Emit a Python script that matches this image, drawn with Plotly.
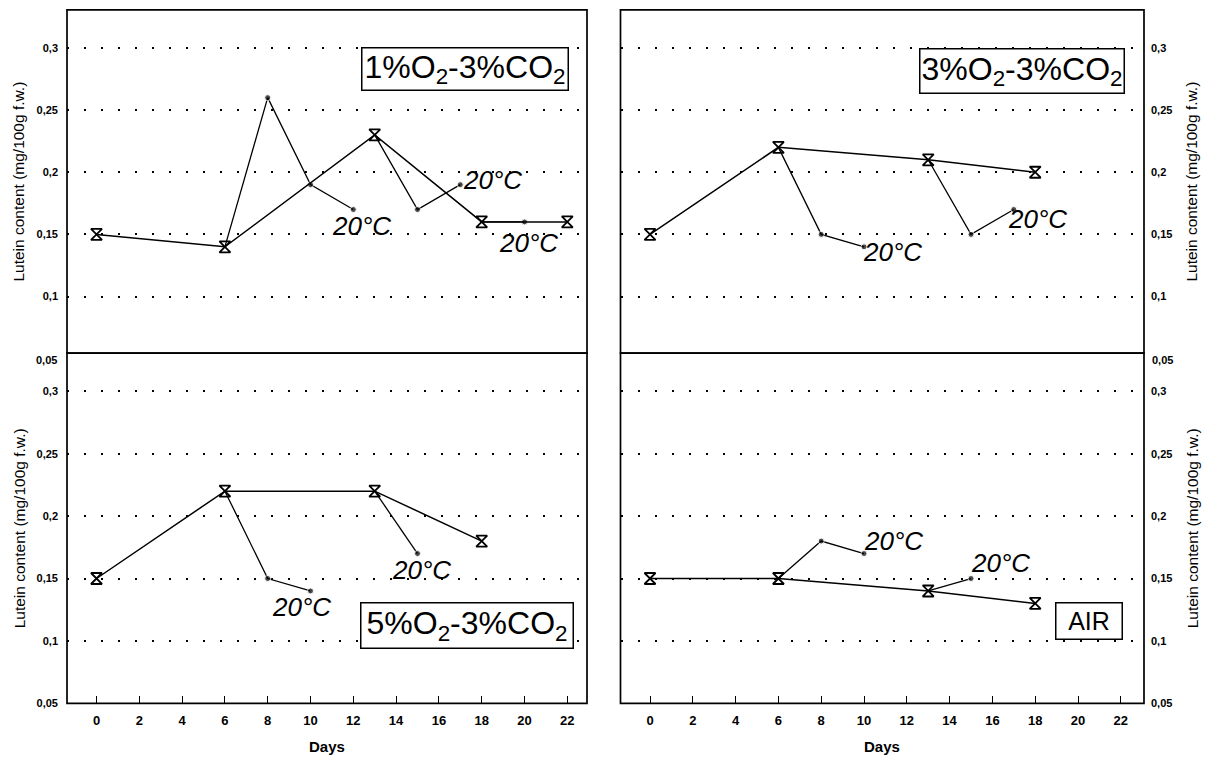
import plotly.graph_objects as go

W, H = 1207, 761

# ---------------- data ----------------
panels = ["1%O2-3%CO2", "3%O2-3%CO2", "5%O2-3%CO2", "AIR"]

# main storage series per panel
tl_days = [0, 6, 13, 18, 22]
tl_vals = [0.15, 0.14, 0.23, 0.16, 0.16]
tr_days = [0, 6, 13, 18]
tr_vals = [0.15, 0.22, 0.21, 0.20]
bl_days = [0, 6, 13, 18]
bl_vals = [0.15, 0.22, 0.22, 0.18]
br_days = [0, 6, 13, 18]
br_vals = [0.15, 0.15, 0.14, 0.13]

# shelf-life branches at 20 °C
tl_b1_days = [6, 8, 10, 12];  tl_b1_vals = [0.14, 0.26, 0.19, 0.17]
tl_b2_days = [13, 15, 17];    tl_b2_vals = [0.23, 0.17, 0.19]
tl_b3_days = [18, 20];        tl_b3_vals = [0.16, 0.16]
tr_b1_days = [6, 8, 10];      tr_b1_vals = [0.22, 0.15, 0.14]
tr_b2_days = [13, 15, 17];    tr_b2_vals = [0.21, 0.15, 0.17]
bl_b1_days = [6, 8, 10];      bl_b1_vals = [0.22, 0.15, 0.14]
bl_b2_days = [13, 15];        bl_b2_vals = [0.22, 0.17]
br_b1_days = [6, 8, 10];      br_b1_vals = [0.15, 0.18, 0.17]
br_b2_days = [13, 15];        br_b2_vals = [0.14, 0.15]

x_ticks = [0, 2, 4, 6, 8, 10, 12, 14, 16, 18, 20, 22]
y_ticks = [0.05, 0.1, 0.15, 0.2, 0.25, 0.3]
y_tick_text = ["0,05", "0,1", "0,15", "0,2", "0,25", "0,3"]
y_title = "Lutein content (mg/100g f.w.)"
x_title = "Days"
label_20 = "20°C"

# label positions (day, value) for "20°C"
tl_lbl = [(12.4, 0.157), (18.5, 0.1935), (20.2, 0.143)]
tr_lbl = [(11.35, 0.1357), (18.1, 0.1627)]
bl_lbl = [(9.6, 0.1274), (15.2, 0.157)]
br_lbl = [(11.4, 0.180), (16.4, 0.1626)]

# ---------------- layout helpers ----------------
def px_x(p):
    return p / W

def px_y(p):
    return 1 - p / H

L0, L1 = 67, 587
R0, R1 = 620.5, 1144
T0, MID, B1 = 10, 356, 709

fig = go.Figure()

font = "Liberation Sans, Arial, sans-serif"

def add_panel(xa, ya, days, vals, branches):
    for bd, bv in branches:
        fig.add_trace(go.Scatter(
            x=bd, y=bv, xaxis=xa, yaxis=ya, mode="lines+markers",
            line=dict(color="black", width=1.3),
            marker=dict(symbol="circle", color="black",
                        size=[0] + [6] * (len(bd) - 1)),
            showlegend=False, hoverinfo="skip"))
    fig.add_trace(go.Scatter(
        x=days, y=vals, xaxis=xa, yaxis=ya, mode="lines+markers",
        line=dict(color="black", width=1.5),
        marker=dict(symbol="hourglass-open", size=11, color="black",
                    line=dict(width=1.8, color="black")),
        showlegend=False, hoverinfo="skip"))

add_panel("x", "y", tl_days, tl_vals,
          [(tl_b1_days, tl_b1_vals), (tl_b2_days, tl_b2_vals), (tl_b3_days, tl_b3_vals)])
add_panel("x2", "y2", tr_days, tr_vals,
          [(tr_b1_days, tr_b1_vals), (tr_b2_days, tr_b2_vals)])
add_panel("x3", "y3", bl_days, bl_vals,
          [(bl_b1_days, bl_b1_vals), (bl_b2_days, bl_b2_vals)])
add_panel("x4", "y4", br_days, br_vals,
          [(br_b1_days, br_b1_vals), (br_b2_days, br_b2_vals)])

def xrange(left, right, zero):
    per = 21.4
    return [(left - zero) / per, (right - zero) / per]

xr_left = xrange(L0, L1, 96.5)
xr_right = xrange(R0, R1, 650)

per_unit = 62.65 / 0.05
top_range = [0.3 - (MID - 48.3) / per_unit, 0.3 + (48.3 - T0) / per_unit]
bot_range = [0.0499, 0.3 + (394.3 - MID) / per_unit]

common_x = dict(showline=False, showgrid=False, zeroline=False, tickvals=x_ticks,
                tickfont=dict(family=font, size=13, color="black", weight="bold"))

def ycommon(standoff):
    return dict(showline=False, showgrid=True, gridcolor="black", gridwidth=2,
                griddash="2px,15px", zeroline=False, tickvals=y_ticks,
                ticktext=y_tick_text, ticks="",
                tickfont=dict(family=font, size=11, color="black", weight="bold"),
                ticklabelstandoff=standoff)

fig.update_layout(
    width=W, height=H, margin=dict(l=0, r=0, t=0, b=0),
    paper_bgcolor="white", plot_bgcolor="white",
    xaxis=dict(domain=[px_x(L0), px_x(L1)], range=xr_left, anchor="y",
               showticklabels=False, ticks="", **common_x),
    xaxis2=dict(domain=[px_x(R0), px_x(R1)], range=xr_right, anchor="y2",
                showticklabels=False, ticks="", **common_x),
    xaxis3=dict(domain=[px_x(L0), px_x(L1)], range=xr_left, anchor="y3",
                ticks="inside", ticklen=7, tickwidth=1.3, tickcolor="black",
                ticklabelstandoff=8, **common_x),
    xaxis4=dict(domain=[px_x(R0), px_x(R1)], range=xr_right, anchor="y4",
                ticks="inside", ticklen=7, tickwidth=1.3, tickcolor="black",
                ticklabelstandoff=8, **common_x),
    yaxis=dict(domain=[px_y(MID), px_y(T0)], range=top_range, anchor="x", side="left", **ycommon(8)),
    yaxis2=dict(domain=[px_y(MID), px_y(T0)], range=top_range, anchor="x2", side="right", **ycommon(6)),
    yaxis3=dict(domain=[px_y(B1), px_y(MID)], range=bot_range, anchor="x3", side="left", **ycommon(8)),
    yaxis4=dict(domain=[px_y(B1), px_y(MID)], range=bot_range, anchor="x4", side="right", **ycommon(6)),
)

# panel frames
shapes = []
for x0, x1, y0, y1 in [(L0, L1, T0, MID), (R0, R1, T0, MID), (L0, L1, MID, B1), (R0, R1, MID, B1)]:
    shapes.append(dict(type="rect", xref="paper", yref="paper",
                       x0=px_x(x0), x1=px_x(x1), y0=px_y(y1), y1=px_y(y0),
                       line=dict(color="black", width=1.7), layer="above"))
fig.update_layout(shapes=shapes)

ann = []
for xa, ya, lbls in [("x", "y", tl_lbl), ("x2", "y2", tr_lbl), ("x3", "y3", bl_lbl), ("x4", "y4", br_lbl)]:
    for (dx, dy) in lbls:
        ann.append(dict(x=dx, y=dy, xref=xa, yref=ya, text="<i>" + label_20 + "</i>",
                        showarrow=False, xanchor="center", yanchor="middle",
                        font=dict(family=font, size=26, color="black")))

boxes = [
    ("x", "y", 17.22, 0.2832, 208, 44, "1%O<sub>2</sub>-3%CO<sub>2</sub>", 32),
    ("x2", "y2", 17.4, 0.2815, 206, 46, "3%O<sub>2</sub>-3%CO<sub>2</sub>", 32),
    ("x3", "y3", 17.3, 0.112, 214, 47, "5%O<sub>2</sub>-3%CO<sub>2</sub>", 32),
    ("x4", "y4", 20.5, 0.1162, 68, 38, "AIR", 25),
]
for xa, ya, cx, cy, bw, bh, txt, fs in boxes:
    ann.append(dict(x=cx, y=cy, xref=xa, yref=ya, text=txt, showarrow=False,
                    xanchor="center", yanchor="middle", width=bw - 3, height=bh - 3,
                    borderpad=0, bordercolor="black", borderwidth=1.5, bgcolor="white",
                    font=dict(family=font, size=fs, color="black")))

# extra 0,05 labels of the top panels (just below the divider)
ann.append(dict(x=px_x(L0 - 8), y=px_y(363), xref="paper", yref="paper", text=y_tick_text[0],
                showarrow=False, xanchor="right", yanchor="middle",
                font=dict(family=font, size=11, color="black", weight="bold")))
ann.append(dict(x=px_x(R1 + 6), y=px_y(363), xref="paper", yref="paper", text=y_tick_text[0],
                showarrow=False, xanchor="left", yanchor="middle",
                font=dict(family=font, size=11, color="black", weight="bold")))

for xpx, ymid in [(19, (T0 + MID) / 2), (19, (MID + B1) / 2), (1192, (T0 + MID) / 2), (1192, (MID + B1) / 2)]:
    ann.append(dict(x=px_x(xpx), y=px_y(ymid), xref="paper", yref="paper", text=y_title,
                    textangle=-90, showarrow=False, xanchor="center", yanchor="middle",
                    font=dict(family=font, size=15.5, color="black")))

for xpx in [(L0 + L1) / 2, (R0 + R1) / 2]:
    ann.append(dict(x=px_x(xpx), y=px_y(752), xref="paper", yref="paper", text=x_title,
                    showarrow=False, xanchor="center", yanchor="middle",
                    font=dict(family=font, size=15, color="black", weight="bold")))

fig.update_layout(annotations=ann)

fig.write_html("out.html")
